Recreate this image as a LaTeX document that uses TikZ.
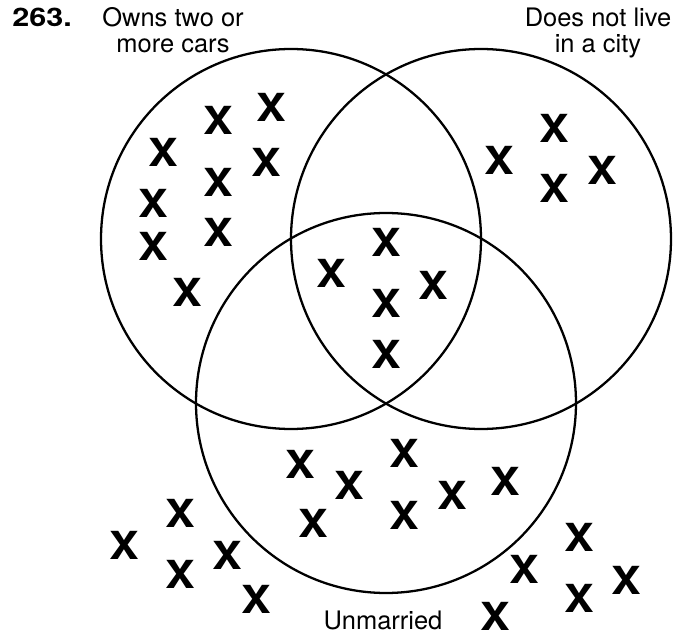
\documentclass[tikz,border=0pt]{standalone}
\usepackage{fontspec}
\setmainfont{TeX Gyre Heros}
\usepackage{tikz}

\tikzset{
	xmark/.style={inner sep=0pt, font=\bfseries\fontsize{22}{22}\selectfont},
	setlabel/.style={align=center, inner sep=0pt, font=\fontsize{14.5}{14.8}\selectfont},
}

\begin{document}
\begin{tikzpicture}[x=0.02cm, y=-0.02cm]
		\useasboundingbox (0,0) rectangle (677,638);
		\coordinate (cars) at (291, 239);
		\coordinate (city) at (481, 239);
		\coordinate (unmarried) at (386, 403);

		% the three sets
		\draw [line width=1.3pt] (cars) circle [radius=190];
		\draw [line width=1.3pt] (city) circle [radius=190];
		\draw [line width=1.3pt] (unmarried) circle [radius=190];

		% labels
		\node [anchor=base west, inner sep=0pt, font=\bfseries\fontsize{14.5}{14.8}\selectfont] (num) at (12, 27) {\scalebox{1.2}[1]{263.}};
		\node [setlabel, anchor=base] (lcars) at (173, 53) {Owns two or\\more cars};
		\node [setlabel, anchor=base] (lcity) at (598, 53) {Does not live\\in a city};
		\node [setlabel, anchor=base] (lunm) at (383, 630) {Unmarried};

		% only cars
		\foreach \px/\py [count=\i] in {218/120, 271/107, 163/152, 266/162, 218/182, 153/203, 218/232, 153/246, 187/292}
			\node [xmark] (a\i) at (\px, \py) {\scalebox{1.15}[1]{X}};
		% only city
		\foreach \px/\py [count=\i] in {499/160, 554/128, 554/188, 602/170}
			\node [xmark] (b\i) at (\px, \py) {\scalebox{1.15}[1]{X}};
		% cars, city and unmarried
		\foreach \px/\py [count=\i] in {386/242, 331/273, 433/285, 386/303, 386/354}
			\node [xmark] (c\i) at (\px, \py) {\scalebox{1.15}[1]{X}};
		% only unmarried
		\foreach \px/\py [count=\i] in {300/464, 349/485, 404/453, 313/523, 404/515, 452/495, 505/481}
			\node [xmark] (d\i) at (\px, \py) {\scalebox{1.15}[1]{X}};
		% outside all sets
		\foreach \px/\py [count=\i] in {180/513, 124/545, 180/574, 227/555, 256/599, 579/537, 524/569, 626/580, 579/598, 495/616}
			\node [xmark] (e\i) at (\px, \py) {\scalebox{1.15}[1]{X}};
	\end{tikzpicture}
\end{document}
